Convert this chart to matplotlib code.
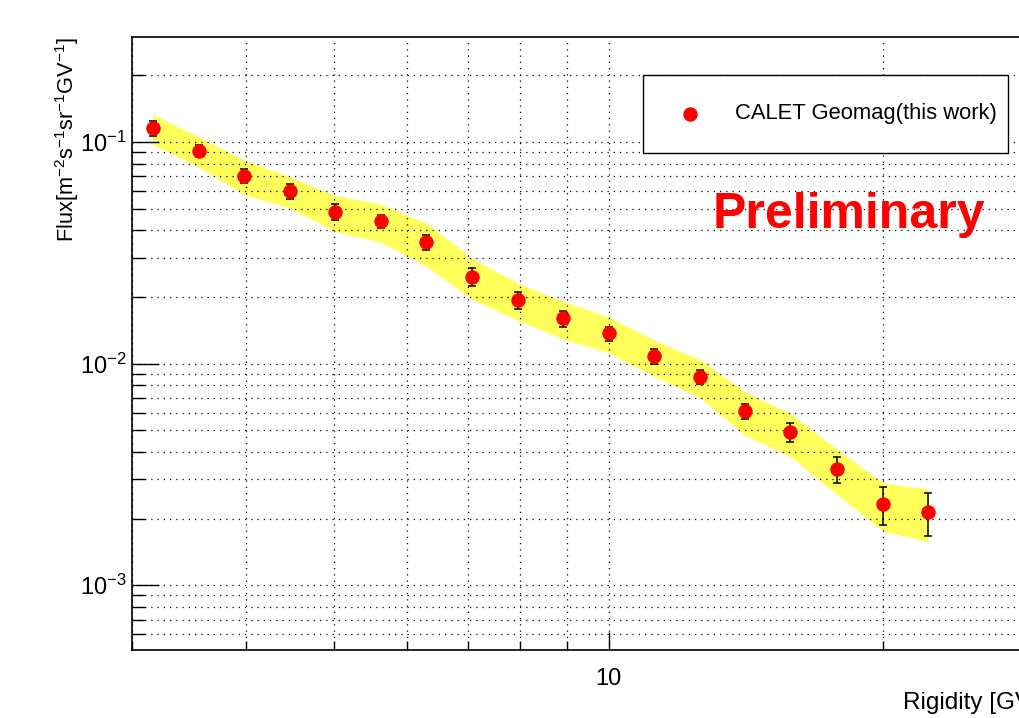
import matplotlib
matplotlib.use("Agg")
import matplotlib.pyplot as plt
from matplotlib.patches import Rectangle
from matplotlib.ticker import LogLocator, NullFormatter, FixedLocator, FixedFormatter

plt.rcParams['font.family'] = ['Liberation Sans', 'DejaVu Sans']
plt.rcParams['mathtext.fontset'] = 'custom'
plt.rcParams['mathtext.rm'] = 'Liberation Sans'
plt.rcParams['mathtext.it'] = 'Liberation Sans:italic'
plt.rcParams['mathtext.default'] = 'regular'

# rigidity bin centres [GV]
rigidity = [3.16, 3.55, 3.98, 4.47, 5.01, 5.62, 6.31, 7.08, 7.94, 8.91,
            10.0, 11.2, 12.6, 14.1, 15.8, 17.8, 20.0, 22.4]
# flux [m^-2 s^-1 sr^-1 GV^-1]
flux = [0.1156, 0.0914, 0.0705, 0.0600, 0.0484, 0.0439, 0.0353, 0.0247, 0.0194,
        0.0160, 0.0137, 0.0108, 0.0087, 0.0061, 0.0049, 0.00333, 0.00232, 0.00214]
stat_err = [0.0086, 0.0060, 0.0050, 0.0048, 0.0040, 0.0030, 0.0028, 0.0022, 0.0017,
            0.0013, 0.0010, 0.0008, 0.00064, 0.0005, 0.00047, 0.00045, 0.00045, 0.00047]
sys_err = [0.0180, 0.0143, 0.0125, 0.0097, 0.0089, 0.0086, 0.0078, 0.0052, 0.0037,
           0.0031, 0.0025, 0.0020, 0.0017, 0.00135, 0.00108, 0.00077, 0.00057, 0.00057]

W, H = 1019, 718
fig = plt.figure(figsize=(W / 100, H / 100), dpi=100)
# frame: left 132px, top 37px, bottom 650px, right beyond the crop
ax = fig.add_axes([132 / W, 1 - 650 / H, 912 / W, (650 - 37) / H])
ax.set_xscale('log')
ax.set_yscale('log')
ax.set_xlim(3.0, 30.0)
ax.set_ylim(5.1e-4, 0.298)

band_lo = [f - s for f, s in zip(flux, sys_err)]
band_hi = [f + s for f, s in zip(flux, sys_err)]
ax.fill_between(rigidity, band_lo, band_hi, color='#ffff5c', lw=0, zorder=1)

ax.errorbar(rigidity, flux, yerr=stat_err, fmt='o', color='red', ms=9.4,
            mec='red', ecolor='black', elinewidth=1.1, capsize=2.9, capthick=1.1,
            zorder=3, label='CALET Geomag(this work)')

# ticks
ax.xaxis.set_major_locator(FixedLocator([10]))
ax.xaxis.set_major_formatter(FixedFormatter(['10']))
ax.xaxis.set_minor_locator(FixedLocator([3, 4, 5, 6, 7, 8, 9, 20, 30]))
ax.xaxis.set_minor_formatter(NullFormatter())
ax.yaxis.set_major_locator(LogLocator(base=10, numticks=10))
ax.yaxis.set_minor_locator(LogLocator(base=10, subs=range(2, 10), numticks=10))
ax.yaxis.set_minor_formatter(NullFormatter())

ax.tick_params(axis='both', which='both', direction='in', top=False, right=False,
               labelsize=17, width=1.0)
ax.tick_params(axis='y', which='major', length=19.4, pad=4)
ax.tick_params(axis='y', which='minor', length=9.7)
ax.tick_params(axis='x', which='major', length=13, pad=13)
ax.tick_params(axis='x', which='minor', length=6.5)

ax.set_axisbelow('line')
ax.grid(True, which='both', color='black', linestyle=(0, (1, 4)), linewidth=0.9)

for side in ['left', 'bottom', 'top']:
    ax.spines[side].set_linewidth(1.2)
ax.spines['right'].set_visible(False)

ax.set_xlabel('Rigidity [GV]', fontsize=17.5, loc='right')
ax.xaxis.set_label_coords(0.993, -0.068)
ax.set_ylabel('Flux[m$^{-2}$s$^{-1}$sr$^{-1}$GV$^{-1}$]', fontsize=15.7, loc='top')
ax.yaxis.set_label_coords(-0.056, 1.0)

# legend box
ax.add_patch(Rectangle((0.560, 0.811), 0.4005, 0.127, transform=ax.transAxes,
                       facecolor='white', edgecolor='black', lw=1.0, zorder=4))
ax.plot([0.6118], [0.875], 'o', color='red', ms=9.4, transform=ax.transAxes,
        zorder=5, clip_on=False)
ax.text(0.661, 0.875, 'CALET Geomag(this work)', transform=ax.transAxes,
        fontsize=15.8, va='center', ha='left', zorder=5)

ax.text(0.786, 0.7096, 'Preliminary', transform=ax.transAxes, fontsize=36,
        fontweight='bold', color='red', ha='center', va='center', zorder=5)

fig.savefig('out.png', dpi=100)
